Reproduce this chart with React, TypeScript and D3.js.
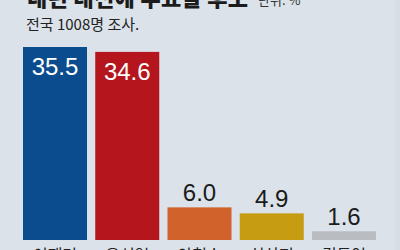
import React from "react";
import * as d3 from "d3";

const categories = ["이재명", "윤석열", "안철수", "심상정", "김동연"];
const values = [35.5, 34.6, 6.0, 4.9, 1.6];
const colors = ["#0b4c8e", "#b5151d", "#d2622b", "#c69d12", "#b9bcc1"];
const titleText = "내년 대선에 투표할 후보";
const unitText = "단위: %";
const subtitleText = "전국 1008명 조사.";

const W = 400;
const H = 250;

export default function App() {
  const x = d3
    .scaleBand<string>()
    .domain(categories)
    .range([23, 376])
    .paddingInner(0.114)
    .paddingOuter(0);
  const y = d3.scaleLinear().domain([0, 35.5]).range([240, 47]);
  const inside = (v: number) => v > 20;
  const sans = "'Noto Sans CJK KR', 'Noto Sans', sans-serif";
  const numFont = "'Liberation Sans Narrow', 'Liberation Sans', Arial, sans-serif";

  return (
    <svg
      width={W}
      height={H}
      style={{ position: "fixed", left: 0, top: 0, display: "block" }}
    >
      <rect x={0} y={0} width={W} height={H} fill="#dbe2e9" />
      <rect x={395} y={0} width={5} height={H} fill="#d5dde5" />
      <text x={27} y={6} fontFamily={sans} fontWeight={900} fontSize={22} fill="#1b1b1b" letterSpacing={0.3}>
        {titleText}
      </text>
      <text x={258} y={5} fontFamily={sans} fontSize={13} fill="#333">
        {unitText}
      </text>
      <text x={26} y={30} fontFamily={sans} fontSize={15} fill="#222">
        {subtitleText}
      </text>
      {categories.map((c, i) => {
        const v = values[i];
        const bx = x(c)!;
        const bw = x.bandwidth();
        const top = y(v);
        const cx = bx + bw / 2;
        return (
          <g key={c}>
            <rect x={bx} y={top} width={bw} height={y(0) - top} fill={colors[i]} />
            <text
              x={cx}
              y={inside(v) ? top + 28 : top - 6}
              textAnchor="middle"
              fontFamily={inside(v) ? numFont : "'Liberation Sans', Arial, sans-serif"}
              fontSize={24}
              fill={inside(v) ? "#ffffff" : "#1b1b1b"}
            >
              {v.toFixed(1)}
            </text>
            <text x={cx} y={261} textAnchor="middle" fontFamily={sans} fontSize={16} fill="#222">
              {c}
            </text>
          </g>
        );
      })}
    </svg>
  );
}
